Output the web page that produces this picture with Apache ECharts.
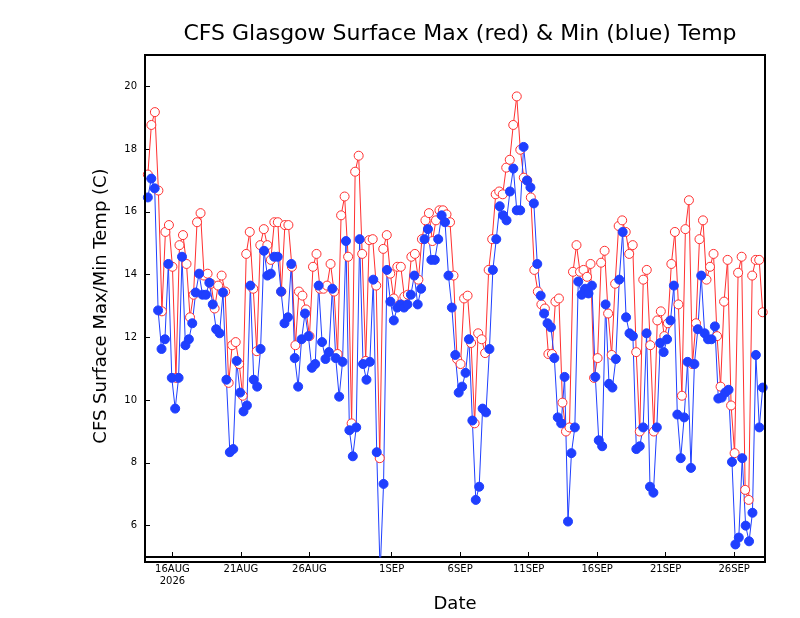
<!DOCTYPE html>
<html>
<head>
<meta charset="utf-8">
<script src="https://cdn.jsdelivr.net/npm/echarts@6/dist/echarts.min.js"></script>
<style>html,body{margin:0;padding:0;background:#fff}#chart{width:800px;height:618px}</style>
</head>
<body>
<div id="chart"></div>
<script>
// max temps (red), roughly 6-hourly
var maxTemps = [17.19,18.77,19.18,16.68,12.83,15.36,15.58,14.25,10.71,14.94,15.26,14.34,12.64,13.36,15.67,15.96,13.97,14.03,13.71,12.92,
  13.65,13.97,13.46,10.55,11.75,11.85,11.15,10.14,14.66,15.36,13.55,11.56,14.94,15.45,14.94,14.47,15.67,15.67,13.46,15.58,
  15.58,14.25,11.75,13.46,13.33,12.89,12.04,14.25,14.66,13.55,13.55,13.65,14.34,13.46,11.47,15.89,16.49,14.57,9.26,17.28,
  17.79,14.66,11.25,15.1,15.13,13.65,8.15,14.82,15.26,14.03,13.24,14.25,14.25,13.3,13.36,14.57,14.66,13.84,15.13,15.73,
  15.96,15.07,15.73,16.05,16.05,15.92,15.67,13.97,11.31,11.15,13.24,13.33,11.82,9.26,12.13,11.94,11.5,14.15,15.13,16.56,
  16.65,16.56,17.41,17.66,18.77,19.68,17.98,17.09,17.0,16.46,14.15,13.46,13.05,12.92,11.47,11.47,13.14,13.24,9.92,9.0,
  9.13,14.09,14.94,14.09,14.15,13.93,14.34,10.71,11.34,14.38,14.76,12.76,11.44,13.71,15.55,15.73,15.36,14.66,14.94,11.53,
  9.0,13.84,14.15,11.75,9.0,12.54,12.83,12.04,12.45,14.34,15.36,13.05,10.14,15.45,16.37,11.15,12.45,15.13,15.73,13.84,
  14.25,14.66,12.04,10.43,13.14,14.47,9.83,8.31,14.06,14.57,7.14,6.82,13.97,14.47,14.47,12.8];

// min temps (blue)
var minTemps = [16.46,17.06,16.75,12.86,11.63,11.94,14.34,10.71,9.73,10.71,14.57,11.75,11.94,12.45,13.43,14.03,13.36,13.36,13.74,13.05,
  12.26,12.13,13.43,10.65,8.34,8.44,11.25,10.24,9.64,9.83,13.65,10.65,10.43,11.63,14.76,13.97,14.03,14.57,14.57,13.46,
  12.45,12.64,14.34,11.34,10.43,11.94,12.76,12.04,11.03,11.15,13.65,11.85,11.31,11.53,13.55,11.34,10.11,11.22,15.07,9.04,
  8.21,9.13,15.13,11.15,10.65,11.22,13.84,8.34,4.5,7.33,14.15,13.14,12.54,12.95,13.05,12.95,13.05,13.36,13.97,13.05,
  13.55,15.13,15.45,14.47,14.47,15.13,15.89,15.67,13.97,12.95,11.44,10.24,10.43,10.87,11.94,9.35,6.82,7.24,9.73,9.61,
  11.63,14.15,15.13,16.18,15.89,15.73,16.65,17.38,16.05,16.05,18.07,17.0,16.78,16.27,14.34,13.33,12.76,12.45,12.32,11.34,
  9.45,9.26,10.74,6.13,8.31,9.13,13.78,13.36,13.55,13.4,13.65,10.74,8.72,8.53,13.05,10.52,10.4,11.31,13.84,15.36,
  12.64,12.13,12.04,8.44,8.53,9.13,12.13,7.24,7.05,9.13,11.82,11.53,11.94,12.54,13.65,9.54,8.15,9.45,11.22,7.84,
  11.15,12.26,13.97,12.13,11.94,11.94,12.35,10.05,10.08,10.24,10.33,8.03,5.4,5.62,8.15,6.0,5.5,6.41,11.44,9.13,10.4];

var tickDates = ['2026-08-16','2026-08-21','2026-08-26','2026-09-01','2026-09-06','2026-09-11','2026-09-16','2026-09-21','2026-09-26'];
var tickLabels = ['16AUG\n2026','21AUG','26AUG','1SEP','6SEP','11SEP','16SEP','21SEP','26SEP'];
var yTicks = [6,8,10,12,14,16,18,20];

var firstTime = Date.UTC(2026,7,14,5);
var lastTime = Date.UTC(2026,8,28,2);

function toSeries(vals) {
  var step = (lastTime - firstTime) / (vals.length - 1);
  return vals.map(function(v, i) { return [firstTime + i * step, v]; });
}
var tickTimes = tickDates.map(function(d) { return Date.parse(d + 'T00:00:00Z'); });
var labelMap = {};
tickTimes.forEach(function(t, i) { labelMap[t] = tickLabels[i]; });

var chart = echarts.init(document.getElementById('chart'), null, {renderer: 'canvas'});
chart.setOption({
  animation: false,
  backgroundColor: '#fff',
  title: {
    text: 'CFS Glasgow Surface Max (red) & Min (blue) Temp',
    left: 455, top: 18, textAlign: 'center',
    textStyle: {fontFamily: 'DejaVu Sans', fontWeight: 'normal', fontSize: 22, color: '#000'}
  },
  grid: {left: 145, right: 35, top: 55, bottom: 56},
  xAxis: {
    type: 'value',
    min: Date.UTC(2026,7,14,0), max: Date.UTC(2026,8,28,6),
    name: 'Date', nameLocation: 'middle', nameGap: 38,
    nameTextStyle: {fontFamily: 'DejaVu Sans', fontSize: 18, color: '#000'},
    axisLine: {lineStyle: {color: '#000', width: 2}},
    axisTick: {customValues: tickTimes, inside: true, length: 5, lineStyle: {color: '#000'}},
    axisLabel: {
      customValues: tickTimes, color: '#000', fontFamily: 'DejaVu Sans', fontSize: 10, margin: 6,
      lineHeight: 12,
      formatter: function(v) { return labelMap[v] || ''; }
    },
    splitLine: {show: false}
  },
  yAxis: {
    type: 'value', min: 5, max: 21,
    name: 'CFS Surface Max/Min Temp (C)', nameLocation: 'middle', nameGap: 35,
    nameTextStyle: {fontFamily: 'DejaVu Sans', fontSize: 18, color: '#000'},
    axisLine: {lineStyle: {color: '#000', width: 2}},
    axisTick: {customValues: yTicks, inside: true, length: 5, lineStyle: {color: '#000'}},
    axisLabel: {customValues: yTicks, color: '#000', fontFamily: 'DejaVu Sans', fontSize: 10, margin: 8},
    splitLine: {show: false}
  },
  graphic: [{
    type: 'rect', shape: {x: 145, y: 55, width: 620, height: 507},
    style: {fill: 'none', stroke: '#000', lineWidth: 2}, silent: true, z: 100
  }],
  series: [{
    name: 'Max', type: 'line', data: toSeries(maxTemps),
    symbol: 'circle', symbolSize: 9,
    itemStyle: {color: '#fff', borderColor: '#ff3030', borderWidth: 1},
    lineStyle: {color: '#ff3030', width: 1}
  }, {
    name: 'Min', type: 'line', data: toSeries(minTemps),
    symbol: 'circle', symbolSize: 9,
    itemStyle: {color: '#1f3fff', borderColor: '#1f3fff'},
    lineStyle: {color: '#1f3fff', width: 1}
  }]
});
</script>
</body>
</html>
